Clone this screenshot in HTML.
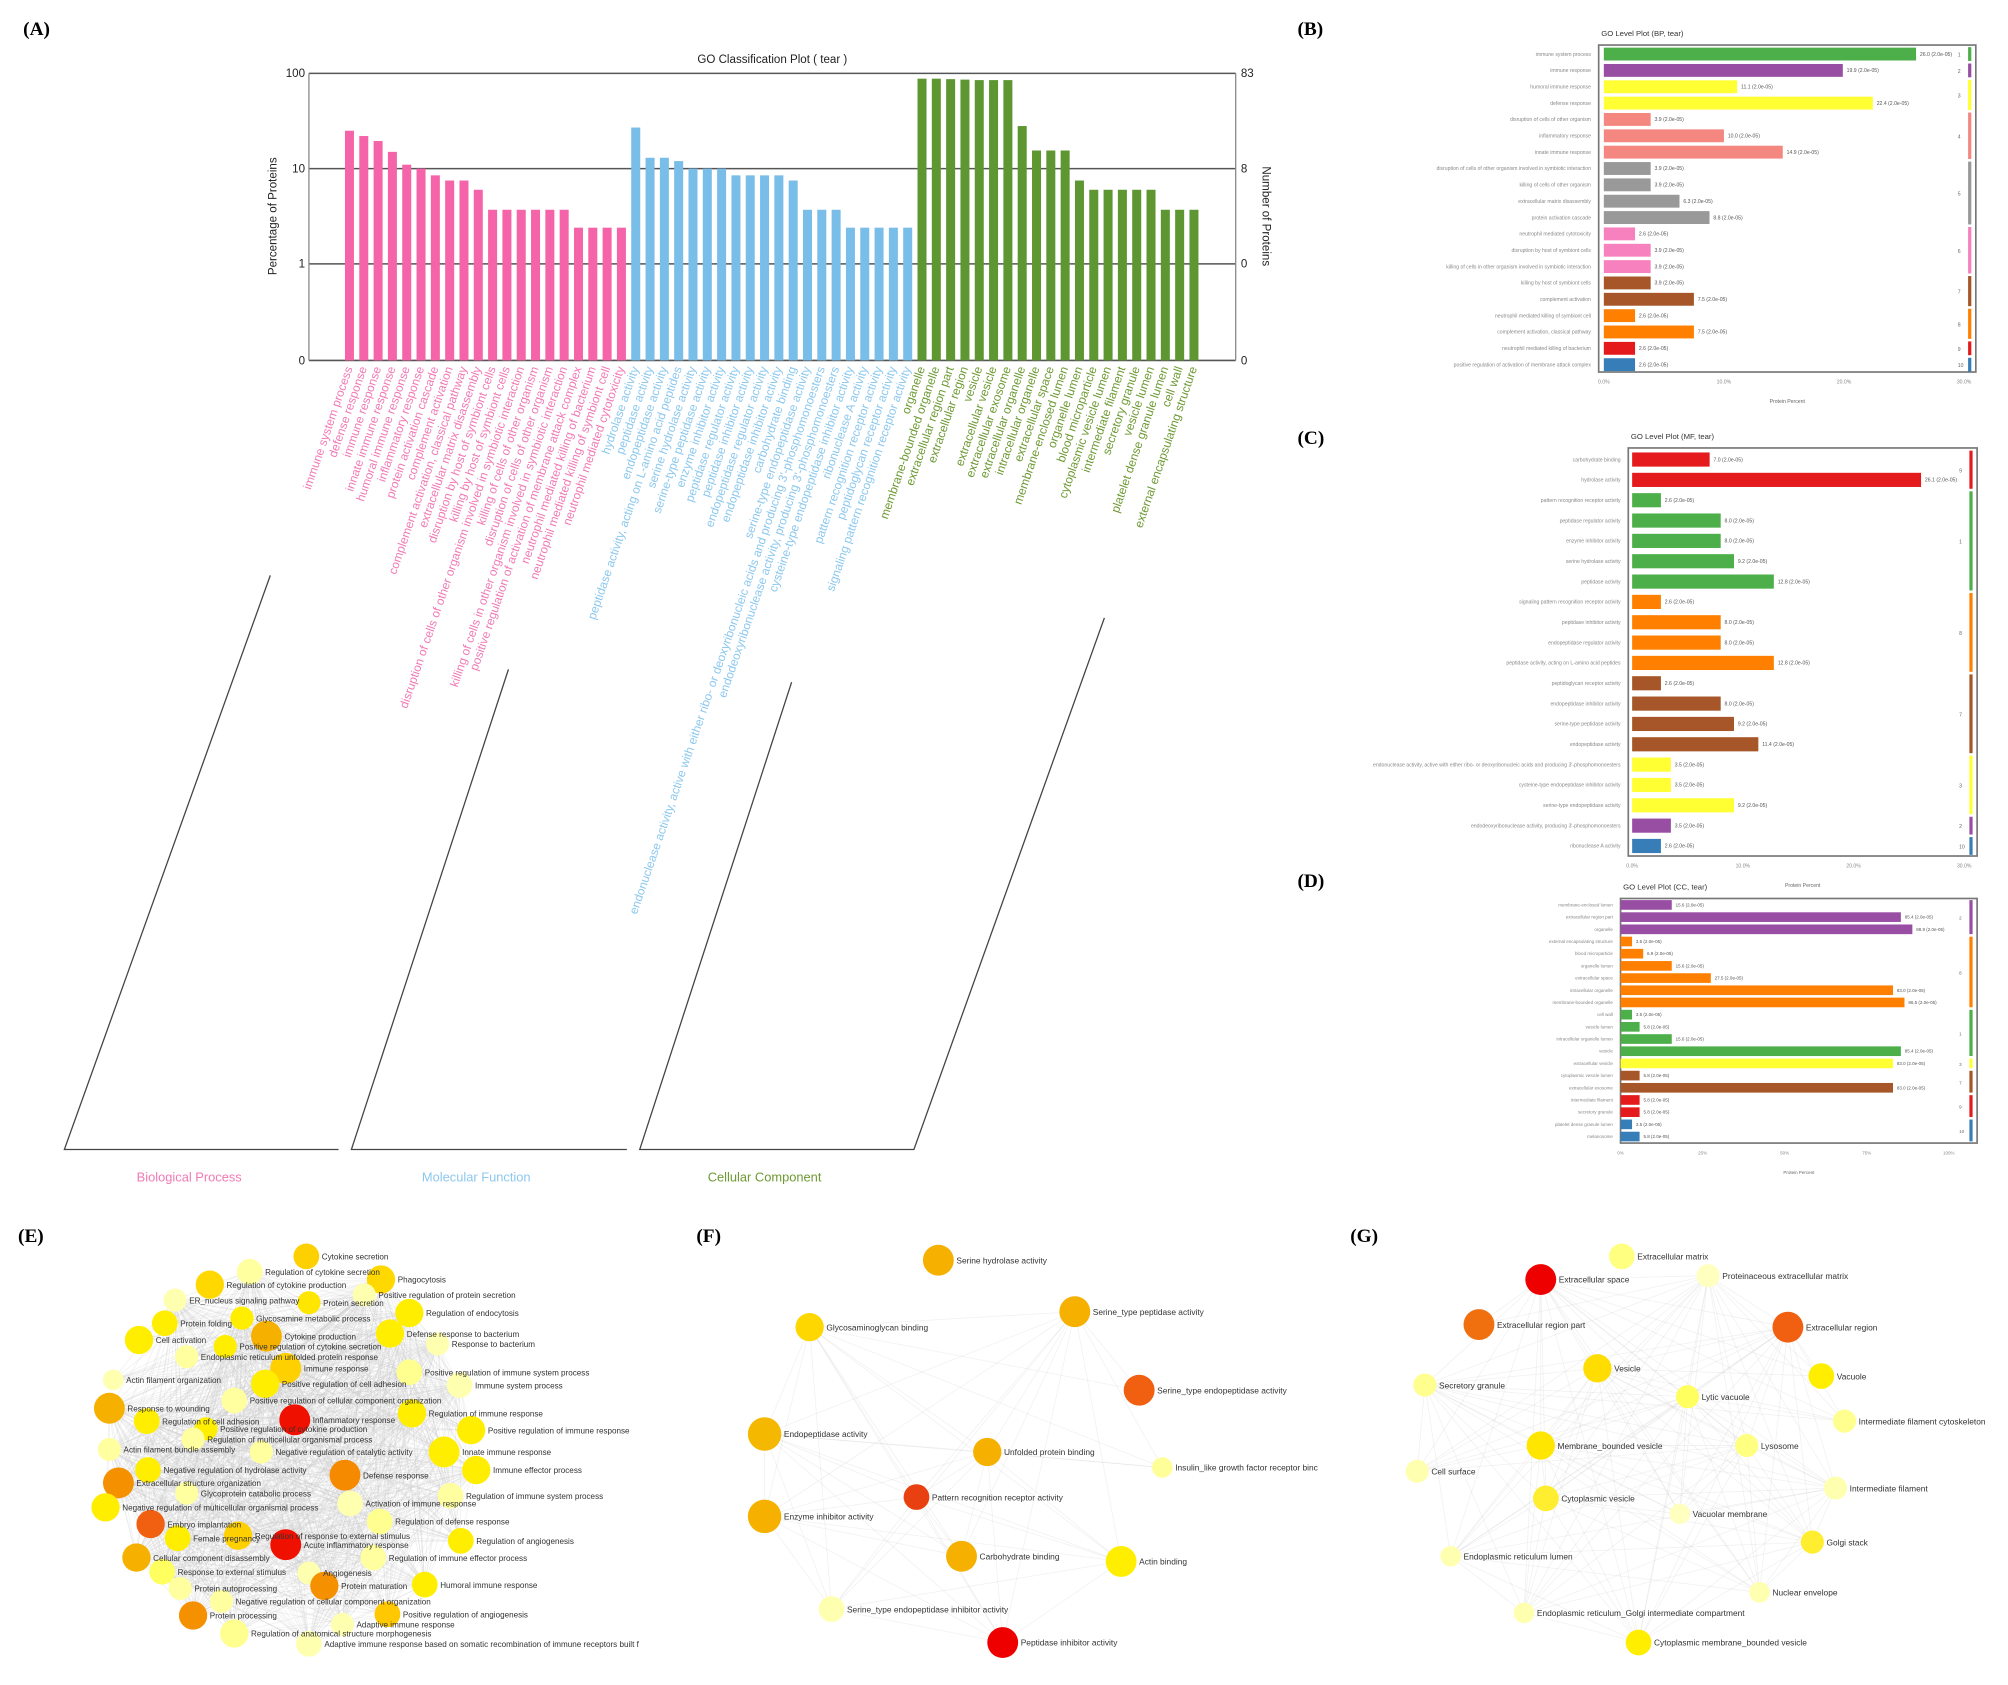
<!DOCTYPE html>
<html><head><meta charset="utf-8"><style>
html,body{margin:0;padding:0;background:#fff;}
svg{display:block;font-family:"Liberation Sans",sans-serif;}
</style></head><body>
<svg id="fig" width="2008" height="1685" viewBox="0 0 1560 1309" preserveAspectRatio="none" xmlns="http://www.w3.org/2000/svg">
<g font-family="Liberation Serif" font-weight="bold" font-size="15" fill="#000">
<text x="18" y="27">(A)</text>
<text x="1008" y="27">(B)</text>
<text x="1008" y="345">(C)</text>
<text x="1008" y="689">(D)</text>
<text x="14" y="965">(E)</text>
<text x="541" y="965">(F)</text>
<text x="1049" y="965">(G)</text>
</g>
<g id="pa"></g>
<g id="pb"></g>
<g id="pc"></g>
<g id="pd"></g>
<g id="pe"></g>
<g id="pf"></g>
<g id="pg"></g>
</svg>
<script>
// ===== Panel A data =====
const bpTerms = ["immune system process","defense response","immune response","innate immune response","humoral immune response","inflammatory response","protein activation cascade","complement activation","complement activation, classical pathway","extracellular matrix disassembly","disruption by host of symbiont cells","killing by host of symbiont cells","disruption of cells of other organism involved in symbiotic interaction","killing of cells of other organism","disruption of cells of other organism","killing of cells in other organism involved in symbiotic interaction","positive regulation of activation of membrane attack complex","neutrophil mediated killing of bacterium","neutrophil mediated killing of symbiont cell","neutrophil mediated cytotoxicity"];
const bpValues = [25,22,19.5,15,11,10,8.5,7.5,7.5,6,3.7,3.7,3.7,3.7,3.7,3.7,2.4,2.4,2.4,2.4];
const mfTerms = ["hydrolase activity","peptidase activity","endopeptidase activity","peptidase activity, acting on L-amino acid peptides","serine hydrolase activity","serine-type peptidase activity","enzyme inhibitor activity","peptidase regulator activity","peptidase inhibitor activity","endopeptidase regulator activity","endopeptidase inhibitor activity","carbohydrate binding","serine-type endopeptidase activity","endonuclease activity, active with either ribo- or deoxyribonucleic acids and producing 3'-phosphomonoesters","endodeoxyribonuclease activity, producing 3'-phosphomonoesters","cysteine-type endopeptidase inhibitor activity","ribonuclease A activity","pattern recognition receptor activity","peptidoglycan receptor activity","signaling pattern recognition receptor activity"];
const mfValues = [27,13,13,12,10,10,10,8.5,8.5,8.5,8.5,7.5,3.7,3.7,3.7,2.4,2.4,2.4,2.4,2.4];
const ccTerms = ["organelle","membrane-bounded organelle","extracellular region part","extracellular region","vesicle","extracellular vesicle","extracellular exosome","extracellular organelle","intracellular organelle","extracellular space","membrane-enclosed lumen","organelle lumen","blood microparticle","cytoplasmic vesicle lumen","intermediate filament","secretory granule","vesicle lumen","platelet dense granule lumen","cell wall","external encapsulating structure"];
const ccValues = [88,88,87,86,85,85,85,28,15.5,15.5,15.5,7.5,6,6,6,6,6,3.7,3.7,3.7];
const aLeftTicks = ["100","10","1","0"];
const aRightTicks = ["83","8","0","0"];

// ===== Panel B data =====
const bLabels = ["immune system process","immune response","humoral immune response","defense response","disruption of cells of other organism","inflammatory response","innate immune response","disruption of cells of other organism involved in symbiotic interaction","killing of cells of other organism","extracellular matrix disassembly","protein activation cascade","neutrophil mediated cytotoxicity","disruption by host of symbiont cells","killing of cells in other organism involved in symbiotic interaction","killing by host of symbiont cells","complement activation","neutrophil mediated killing of symbiont cell","complement activation, classical pathway","neutrophil mediated killing of bacterium","positive regulation of activation of membrane attack complex"];
const bValues = [26,19.9,11.1,22.4,3.9,10,14.9,3.9,3.9,6.3,8.8,2.6,3.9,3.9,3.9,7.5,2.6,7.5,2.6,2.6];
const bCluster = [0,1,2,2,3,3,3,4,4,4,4,5,5,5,6,6,7,7,8,9];
const bTicks = ["0.0%","10.0%","20.0%","30.0%"];

// ===== Panel C data =====
const cLabels = ["carbohydrate binding","hydrolase activity","pattern recognition receptor activity","peptidase regulator activity","enzyme inhibitor activity","serine hydrolase activity","peptidase activity","signaling pattern recognition receptor activity","peptidase inhibitor activity","endopeptidase regulator activity","peptidase activity, acting on L-amino acid peptides","peptidoglycan receptor activity","endopeptidase inhibitor activity","serine-type peptidase activity","endopeptidase activity","endonuclease activity, active with either ribo- or deoxyribonucleic acids and producing 3'-phosphomonoesters","cysteine-type endopeptidase inhibitor activity","serine-type endopeptidase activity","endodeoxyribonuclease activity, producing 3'-phosphomonoesters","ribonuclease A activity"];
const cValues = [7.0,26.1,2.6,8.0,8.0,9.2,12.8,2.6,8.0,8.0,12.8,2.6,8.0,9.2,11.4,3.5,3.5,9.2,3.5,2.6];
const cCluster = [8,8,0,0,0,0,0,7,7,7,7,6,6,6,6,2,2,2,1,9];
const cTicks = ["0.0%","10.0%","20.0%","30.0%"];

// ===== Panel D data =====
const dLabels = ["membrane-enclosed lumen","extracellular region part","organelle","external encapsulating structure","blood microparticle","organelle lumen","extracellular space","intracellular organelle","membrane-bounded organelle","cell wall","vesicle lumen","intracellular organelle lumen","vesicle","extracellular vesicle","cytoplasmic vesicle lumen","extracellular exosome","intermediate filament","secretory granule","platelet dense granule lumen","melanosome"];
const dValues = [15.6,85.4,88.9,3.5,6.9,15.6,27.5,83,86.5,3.5,5.8,15.6,85.4,83,5.8,83,5.8,5.8,3.5,5.8];
const dCluster = [1,1,1,7,7,7,7,7,7,0,0,0,0,2,6,6,8,8,9,9];
const dTicks = ["0%","25%","50%","75%","100%"];

const palette = ["#4daf4a","#984ea3","#ffff33","#f4877f","#999999","#f781bf","#a65628","#ff7f00","#e41a1c","#377eb8"];

const NS="http://www.w3.org/2000/svg";
function mk(parent,tag,attrs,txt){const e=document.createElementNS(NS,tag);for(const k in attrs)e.setAttribute(k,attrs[k]);if(txt!==undefined)e.textContent=txt;parent.appendChild(e);return e;}

// ===== Panel A =====
(function(){
const g=document.getElementById('pa');
const x0=240,x1=960;
function yA(v){return v<1?205+75*(1-v):205-74*Math.log10(v);}
const t=mk(g,'text',{x:600,y:49,'font-size':9,'text-anchor':'middle',fill:'#222'},'GO Classification Plot ( tear )');


const gv=[100,10,1];
gv.forEach((v,i)=>{
  const l=mk(g,'line',{x1:x0,x2:x1,y1:yA(v),y2:yA(v),stroke:'#555','stroke-width':1.2});
  
  
});
const bl=mk(g,'line',{x1:x0,x2:x1,y1:280,y2:280,stroke:'#555','stroke-width':1.2});


mk(g,'line',{x1:x0,x2:x0,y1:57,y2:280,stroke:'#888','stroke-width':1});
mk(g,'line',{x1:x1,x2:x1,y1:57,y2:280,stroke:'#888','stroke-width':1});
const tys=[57,131,205,280];
aLeftTicks.forEach((s,i)=>{const e=mk(g,'text',{x:237,y:tys[i]+3,'font-size':9,'text-anchor':'end',fill:'#222'},s);
 
 });
aRightTicks.forEach((s,i)=>{const e=mk(g,'text',{x:964,y:tys[i]+3,'font-size':9,fill:'#222'},s);
 
 });
const yl=mk(g,'text',{x:0,y:0,'font-size':9,'text-anchor':'middle',fill:'#222',transform:'translate(215,168) rotate(-90)'},'Percentage of Proteins');


const yr=mk(g,'text',{x:0,y:0,'font-size':9,'text-anchor':'middle',fill:'#222',transform:'translate(981,168) rotate(90)'},'Number of Proteins');


const groups=[[bpTerms,bpValues,'#f564a9','#f07ab5'],[mfTerms,mfValues,'#79bde9','#8cc8ee'],[ccTerms,ccValues,'#5e9732','#6e9a34']];
let idx=0;
groups.forEach(([terms,vals,col,lc],gi)=>{
  vals.forEach((v,i)=>{
    const x=268+idx*11.12;
    const y=yA(v);
    const r=mk(g,'rect',{x:x,y:y,width:7,height:280-y,fill:col});
    
    
    const tx=x+6,ty=286;
    const lab=mk(g,'text',{x:tx,y:ty,'font-size':9.3,'text-anchor':'end',fill:lc,transform:`rotate(-71 ${tx} ${ty})`},terms[i]);
    
    
    idx++;
  });
});
const br=[[[210,447],[50,893],[263,893]],[[395,520],[273,893],[487,893]],[[615,530],[497,893],[710,893],[858,480]]];
br.forEach(p=>{const pl=mk(g,'polyline',{points:p.map(q=>q.join(',')).join(' '),fill:'none',stroke:'#444','stroke-width':1});
 
 });
[['Biological Process',147,'#f07ab5'],['Molecular Function',370,'#8cc8ee'],['Cellular Component',594,'#6e9a34']].forEach(([s,x,c])=>{
 const e=mk(g,'text',{x:x,y:918,'font-size':10,'text-anchor':'middle',fill:c},s);
 
 });
})();

// ===== Level plots =====
function levelPlot(gid,title,labels,vals,clus,ticks,box,x0,pxPer,tickStep,r0,rStep,bh,fs){
  const g=document.getElementById(gid);
  const tt=mk(g,'text',{x:box[0]+2,y:box[1]-7,'font-size':6,fill:'#333'},title);
  
  
  const fr=mk(g,'rect',{x:box[0],y:box[1],width:box[2]-box[0],height:box[3]-box[1],fill:'none',stroke:'#777','stroke-width':1.3});
  
  
  function xs(v){return x0+v*pxPer;}
  vals.forEach((v,i)=>{
    const y=r0+i*rStep;
    const b=mk(g,'rect',{x:x0,y:y-bh/2,width:xs(v)-x0,height:bh,fill:palette[clus[i]]});
    
    
    const l=mk(g,'text',{x:box[0]-6,y:y+fs/3,'font-size':fs,'text-anchor':'end',fill:'#888'},labels[i]);
    
    
    const vl=mk(g,'text',{x:xs(v)+3,y:y+fs/3,'font-size':fs,fill:'#555'},v.toFixed(1)+' (2.0e-05)');
    
    
  });
  let s=0;
  for(let i=1;i<=clus.length;i++){
    if(i===clus.length||clus[i]!==clus[s]){
      const ya=r0+s*rStep-rStep/2+1, yb=r0+(i-1)*rStep+rStep/2-1;
      const st=mk(g,'rect',{x:box[2]-6,y:ya,width:2.5,height:yb-ya,fill:palette[clus[s]]});
      
      
      const n=mk(g,'text',{x:box[2]-14,y:(ya+yb)/2+2,'font-size':fs,fill:'#666'},String(clus[s]+1));
      
      
      s=i;
    }
  }
  ticks.forEach((t,i)=>{
    const e=mk(g,'text',{x:xs(i*tickStep),y:box[3]+9,'font-size':fs,'text-anchor':'middle',fill:'#888'},t);
    
    
  });
  const xt=mk(g,'text',{x:(box[0]+box[2])/2,y:box[3]+24,'font-size':fs,'text-anchor':'middle',fill:'#666'},'Protein Percent');
  
  
}
levelPlot('pb','GO Level Plot (BP, tear)',bLabels,bValues,bCluster,bTicks,[1242,35,1535,289],1246,9.33,10,42,12.7,10,4);
levelPlot('pc','GO Level Plot (MF, tear)',cLabels,cValues,cCluster,cTicks,[1265,348,1536,665],1268,8.6,10,357,15.8,11,4);
levelPlot('pd','GO Level Plot (CC, tear)',dLabels,dValues,dCluster,dTicks,[1259,698,1536,888],1259,2.55,25,703,9.47,7.5,3.5);

// ===== Networks =====
const eNodes = [
[238,976,10,"#ffd000","Cytokine secretion"],[194,988,10,"#ffffa0","Regulation of cytokine secretion"],[296,994,11,"#ffd800","Phagocytosis"],[163,998,11,"#ffd800","Regulation of cytokine production"],[283,1006,9,"#ffffb0","Positive regulation of protein secretion"],[136,1010,9,"#ffffb0","ER_nucleus signaling pathway"],[240,1012,9,"#ffe600","Protein secretion"],[318,1020,11,"#ffee00","Regulation of endocytosis"],[188,1024,9,"#ffee00","Glycosamine metabolic process"],[128,1028,10,"#ffee00","Protein folding"],[303,1036,11,"#ffee00","Defense response to bacterium"],[207,1038,12,"#f5b000","Cytokine production"],[108,1041,11,"#ffee00","Cell activation"],[340,1044,9,"#ffffb0","Response to bacterium"],[175,1046,9,"#ffee00","Positive regulation of cytokine secretion"],[145,1054,9,"#ffffa0","Endoplasmic reticulum unfolded protein response"],[222,1063,12,"#ffd000","Immune response"],[318,1066,10,"#ffff90","Positive regulation of immune system process"],[88,1072,8,"#ffffb0","Actin filament organization"],[357,1076,10,"#ffffb0","Immune system process"],[206,1075,11,"#ffee00","Positive regulation of cell adhesion"],[182,1088,10,"#ffffa0","Positive regulation of cellular component organization"],[85,1094,12,"#f5b000","Response to wounding"],[320,1098,11,"#ffee00","Regulation of immune response"],[229,1103,12,"#f01000","Inflammatory response"],[114,1104,10,"#ffee00","Regulation of cell adhesion"],[160,1110,9,"#ffee00","Positive regulation of cytokine production"],[366,1111,11,"#ffee00","Positive regulation of immune response"],[150,1118,9,"#ffffa0","Regulation of multicellular organismal process"],[85,1126,9,"#ffffa0","Actin filament bundle assembly"],[203,1128,9,"#ffffa0","Negative regulation of catalytic activity"],[345,1128,12,"#ffee00","Innate immune response"],[115,1142,10,"#ffee00","Negative regulation of hydrolase activity"],[268,1146,12,"#f58a00","Defense response"],[370,1142,11,"#ffee00","Immune effector process"],[92,1152,12,"#f59000","Extracellular structure organization"],[145,1160,9,"#ffffa0","Glycoprotein catabolic process"],[350,1162,10,"#ffffa0","Regulation of immune system process"],[272,1168,10,"#ffffb0","Activation of immune response"],[82,1171,11,"#ffee00","Negative regulation of multicellular organismal process"],[295,1182,10,"#ffff90","Regulation of defense response"],[117,1184,11,"#f06010","Embryo implantation"],[185,1193,11,"#ffd000","Regulation of response to external stimulus"],[138,1195,10,"#ffee00","Female pregnancy"],[222,1200,12,"#f01000","Acute inflammatory response"],[358,1197,10,"#ffee00","Regulation of angiogenesis"],[106,1210,11,"#f5b000","Cellular component disassembly"],[290,1210,10,"#ffffa0","Regulation of immune effector process"],[240,1222,9,"#ffffb0","Angiogenesis"],[126,1221,10,"#ffff60","Response to external stimulus"],[330,1231,10,"#ffee00","Humoral immune response"],[140,1234,9,"#ffffa0","Protein autoprocessing"],[252,1232,11,"#f59000","Protein maturation"],[172,1244,9,"#ffffa0","Negative regulation of cellular component organization"],[150,1255,11,"#f59000","Protein processing"],[301,1254,10,"#ffc800","Positive regulation of angiogenesis"],[266,1262,9,"#ffffb0","Adaptive immune response"],[182,1269,11,"#ffff90","Regulation of anatomical structure morphogenesis"],[240,1277,10,"#ffffb0","Adaptive immune response based on somatic recombination of immune receptors built f"]
];
const fNodes = [
[729,979,12,"#f5b000","Serine hydrolase activity"],[629,1031,11,"#ffd700","Glycosaminoglycan binding"],[835,1019,12,"#f5b000","Serine_type peptidase activity"],[885,1080,12,"#f06010","Serine_type endopeptidase activity"],[594,1114,13,"#f5b800","Endopeptidase activity"],[767,1128,11,"#f5b000","Unfolded protein binding"],[903,1140,8,"#ffff99","Insulin_like growth factor receptor binc"],[712,1163,10,"#e84010","Pattern recognition receptor activity"],[594,1178,13,"#f5b000","Enzyme inhibitor activity"],[747,1209,12,"#f5b000","Carbohydrate binding"],[871,1213,12,"#ffee00","Actin binding"],[646,1250,10,"#ffffb0","Serine_type endopeptidase inhibitor activity"],[779,1276,12,"#ee0000","Peptidase inhibitor activity"]
];
const gNodes = [
[1260,976,10,"#ffff80","Extracellular matrix"],[1327,991,9,"#ffffc0","Proteinaceous extracellular matrix"],[1197,994,12,"#ee0000","Extracellular space"],[1149,1029,12,"#f07010","Extracellular region part"],[1389,1031,12,"#f06010","Extracellular region"],[1241,1063,11,"#ffdd00","Vesicle"],[1415,1069,10,"#ffee00","Vacuole"],[1107,1076,9,"#ffff90","Secretory granule"],[1311,1085,9,"#ffff60","Lytic vacuole"],[1433,1104,9,"#ffff90","Intermediate filament cytoskeleton"],[1197,1123,11,"#ffe600","Membrane_bounded vesicle"],[1357,1123,9,"#ffff80","Lysosome"],[1101,1143,9,"#ffffb0","Cell surface"],[1426,1156,9,"#ffffb0","Intermediate filament"],[1201,1164,10,"#ffee30","Cytoplasmic vesicle"],[1305,1176,8,"#ffffc0","Vacuolar membrane"],[1408,1198,9,"#ffee30","Golgi stack"],[1127,1209,8,"#ffffb0","Endoplasmic reticulum lumen"],[1367,1237,8,"#ffffb0","Nuclear envelope"],[1184,1253,8,"#ffffb0","Endoplasmic reticulum_Golgi intermediate compartment"],[1273,1276,10,"#ffee00","Cytoplasmic membrane_bounded vesicle"]
];
function network(gid,nodes,edgeOp,maxD,fs){
  const g=document.getElementById(gid);
  const eg=mk(g,'g',{});
  for(let i=0;i<nodes.length;i++)for(let j=i+1;j<nodes.length;j++){
    const a=nodes[i],b=nodes[j];const d=Math.hypot(a[0]-b[0],a[1]-b[1]);
    if(d<maxD&&((i*7+j*3)%3!==0)){
      const l=mk(eg,'line',{x1:a[0],y1:a[1],x2:b[0],y2:b[1],stroke:'#c8c8c8','stroke-width':0.6,'stroke-opacity':edgeOp});
      
      
    }
  }
  nodes.forEach(n=>{
    const c=mk(g,'circle',{cx:n[0],cy:n[1],r:n[2],fill:n[3]});
    
    
  });
  nodes.forEach(n=>{
    const t=mk(g,'text',{x:n[0]+n[2]+2,y:n[1]+2.5,'font-size':fs,fill:'#333'},n[4]);
    
    
  });
}
network('pe',eNodes,0.28,330,6.3);
network('pf',fNodes,0.25,400,6.5);
network('pg',gNodes,0.25,400,6.5);
</script>
</body></html>
